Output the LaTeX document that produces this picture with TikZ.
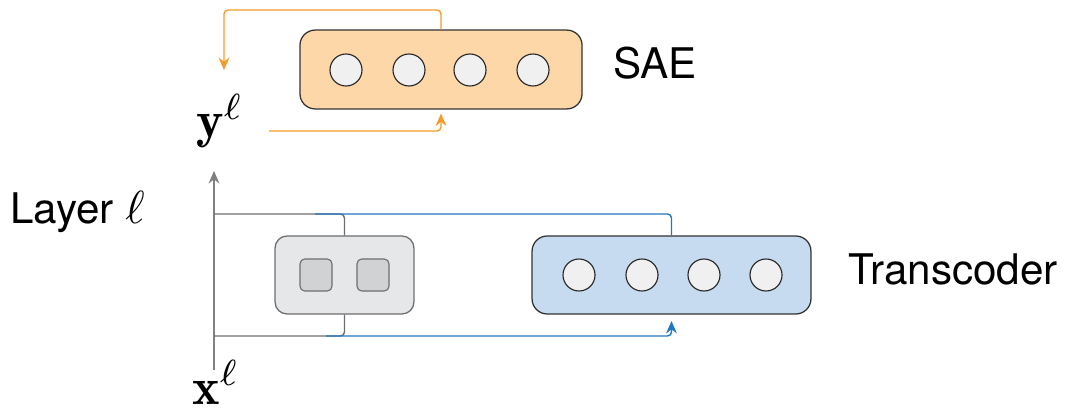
\documentclass[tikz,border=0pt]{standalone}
\usepackage{fontspec}
\newfontfamily\labelfont{TeX Gyre Heros}
\usetikzlibrary{arrows.meta}
\definecolor{saefill}{HTML}{FED7A8}
\definecolor{saeline}{HTML}{F39C2B}
\definecolor{tcfill}{HTML}{C6DBEF}
\definecolor{tcline}{HTML}{2277C1}
\definecolor{mlpfill}{HTML}{E6E7E9}
\definecolor{mlpedge}{HTML}{6D6E70}
\definecolor{sqfill}{HTML}{D1D2D4}
\definecolor{unitfill}{HTML}{F0F0F0}
\definecolor{axisgray}{HTML}{808080}

\begin{document}
\begin{tikzpicture}[x=0.025cm,y=-0.025cm,
    layerbox/.style={draw=black!80,line width=0.9pt,rounded corners=0.38cm,
      minimum width=#1,minimum height=1.97cm,inner sep=0},
    unit/.style={circle,draw=black!85,fill=unitfill,line width=0.8pt,
      minimum size=0.8cm,inner sep=0},
    sq/.style={draw=mlpedge,fill=sqfill,line width=0.8pt,rounded corners=0.12cm,
      minimum size=0.8cm,inner sep=0},
    lbl/.style={font=\labelfont\fontsize{30}{36}\selectfont,inner sep=0},
    mathlbl/.style={scale=3.7,inner sep=0},
    wire/.style={line width=1pt,rounded corners=0.1cm},
    tip/.style={-{Stealth[length=0.31cm,width=0.27cm]}}]
\useasboundingbox (0,0) rectangle (1076,412);

% SAE on the residual stream
\node[layerbox=7.05cm,fill=saefill] (sae) at (441,69.5) {};
\foreach \i/\x in {1/346,2/409,3/470,4/533}
  \node[unit] (s\i) at (\x,70) {};
\node[lbl,anchor=base west] (saelbl) at (613,79) {SAE};

% the MLP and its transcoder
\node[layerbox=3.47cm,minimum height=1.95cm,rounded corners=0.3cm,
  draw=mlpedge,fill=mlpfill] (mlp) at (344.5,275) {};
\node[sq] (m1) at (316,275) {};
\node[sq] (m2) at (373,275) {};
\node[layerbox=6.97cm,minimum height=1.95cm,fill=tcfill] (tc) at (671.5,275) {};
\foreach \i/\x in {1/579,2/642,3/704,4/766}
  \node[unit] (t\i) at (\x,275) {};
\node[lbl,anchor=base west] (tclbl) at (848,284) {Transcoder};

% layer axis and its labels
\node[lbl,anchor=base west] (layer) at (10,224)
  {Layer \scalebox{3.3}{\normalsize$\ell$}};
\node[mathlbl,anchor=base west] (ylbl) at (195,138) {$\mathbf{y}^{\ell}$};
\node[mathlbl,anchor=base west] (xlbl) at (191,404) {$\mathbf{x}^{\ell}$};
\coordinate (axlo) at (214,370);
\coordinate (axhi) at (214,171);
\draw[axisgray,line width=1pt,tip] (axlo) -- (axhi);

% reads and writes of the MLP
\coordinate (mlpin) at (214,336);
\coordinate (mlpout) at (214,214);
\draw[wire,mlpedge] (mlpout) -| (mlp.north);
\draw[wire,mlpedge] (mlpin) -| (mlp.south);

% transcoder wires
\coordinate (tcout) at (315,214);
\coordinate (tcin) at (326,336);
\draw[wire,tcline] (tcout) -| (tc.north);
\draw[wire,tcline,tip,shorten >=0.16cm] (tcin) -| (tc.south);

% SAE wires
\coordinate (saein) at (269,131);
\coordinate (saeout) at (224,70);
\draw[wire,saeline,tip,shorten >=0.1cm] (saein) -| (sae.south);
\draw[wire,saeline,tip] (sae.north) |- (224,10) -- (saeout);
\end{tikzpicture}
\end{document}
